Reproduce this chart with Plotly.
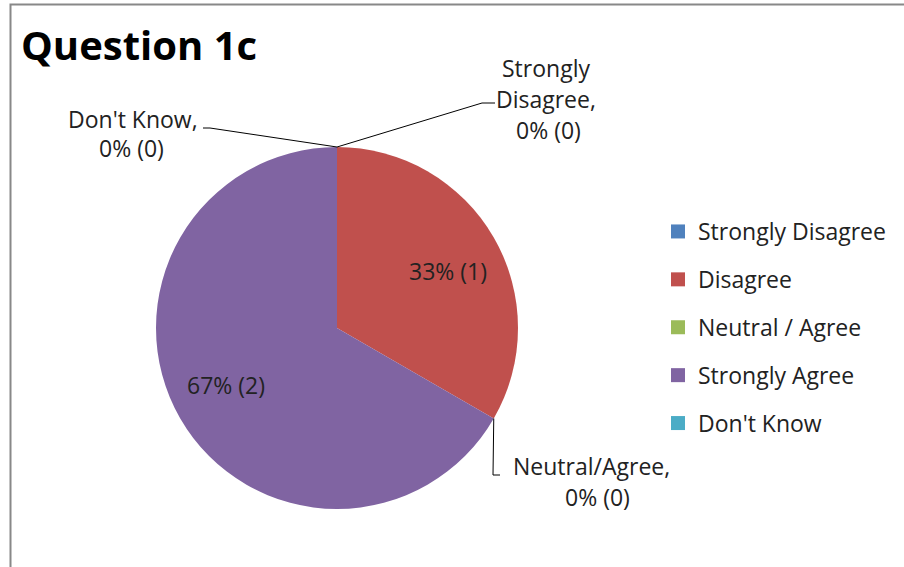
import math
import plotly.graph_objects as go

# data
categories = ['Strongly Disagree', 'Disagree', 'Neutral / Agree', 'Strongly Agree', "Don't Know"]
counts = [0, 1, 0, 2, 0]
colors = ['#4F81BD', '#C0504D', '#9BBB59', '#8064A2', '#4BACC6']

W, H = 904, 567
FONT = 'Open Sans'
# pie geometry in pixels
CX, CY, R = 337, 328, 181


def px(x, y):
    return x / W, 1 - y / H


total = sum(counts)
pcts = [round(100 * c / total) for c in counts]

fig = go.Figure()
fig.add_trace(go.Pie(
    labels=categories, values=counts, sort=False, direction='clockwise', rotation=0,
    marker=dict(colors=colors, line=dict(width=0)),
    textinfo='none', hoverinfo='label+value+percent', showlegend=False,
    domain=dict(x=[(CX - R) / W, (CX + R) / W], y=[1 - (CY + R) / H, 1 - (CY - R) / H]),
))

# legend entries with a bigger gap between them
for name, col in zip(categories, colors):
    fig.add_trace(go.Scatter(
        x=[None], y=[None], mode='markers', name=name, legendgroup=name,
        marker=dict(symbol='square', size=14, color=col),
    ))

annotations = []
shapes = []

# angles (degrees clockwise from 12 o'clock) for the start/mid of each slice
cum = 0
angles = []
for c in counts:
    a0 = 360 * cum / total
    a1 = 360 * (cum + c) / total
    angles.append((a0, (a0 + a1) / 2))
    cum += c


def polar(angle, r):
    t = math.radians(angle)
    return CX + r * math.sin(t), CY - r * math.cos(t)


def label(x, y, text):
    ax, ay = px(x, y)
    annotations.append(dict(x=ax, y=ay, xref='paper', yref='paper', showarrow=False,
                            xanchor='center', yanchor='middle', text=text,
                            font=dict(family=FONT, size=23, color='#222')))


# inside labels for non-zero slices
for i, c in enumerate(counts):
    if c == 0:
        continue
    x, y = polar(angles[i][1] + 3, 0.69 * R)
    label(x, y, f'{pcts[i]}% ({c})')

# outside labels for zero slices: (lines, text centre x, first line y, elbow, end)
outside = {
    0: (['Strongly', 'Disagree,'], 546, 68, (482, 103), (495, 103)),
    4: (["Don't Know,"], 133, 119, (210, 128), (203, 128)),
    2: (['Neutral/Agree,'], 591, 466, (493, 475), (500, 475)),
}
LINE = 31
for i, (lines, tx, ty, elbow, end) in outside.items():
    rows = lines + [f'{pcts[i]}% ({counts[i]})']
    for k, row in enumerate(rows):
        shift = 0
        if k == len(rows) - 1:
            shift = {0: 2, 4: -2, 2: 6}[i]
        label(tx + shift, ty + k * LINE - (2 if i == 4 and k == 1 else 0), row)
    sx, sy = polar(angles[i][0], R)
    pts = [(sx, sy), elbow, end]
    for (x0, y0), (x1, y1) in zip(pts[:-1], pts[1:]):
        a0, b0 = px(x0, y0)
        a1, b1 = px(x1, y1)
        shapes.append(dict(type='line', xref='paper', yref='paper', x0=a0, y0=b0, x1=a1, y1=b1,
                           line=dict(color='#000', width=1)))

# chart border (left and top visible)
shapes.append(dict(type='rect', xref='paper', yref='paper', x0=10.5 / W, y0=-0.05, x1=1.05, y1=1 - 4.5 / H,
                   line=dict(color='#888', width=2), layer='below'))

fig.update_layout(
    width=W, height=H,
    margin=dict(l=0, r=0, t=0, b=0),
    paper_bgcolor='white', plot_bgcolor='white',
    title=dict(text='<b>Question 1c</b>', x=21 / W, xanchor='left', y=1 - 46 / H, yanchor='middle',
               font=dict(family=FONT, size=40, color='#000')),
    xaxis=dict(visible=False), yaxis=dict(visible=False),
    legend=dict(x=658 / W, y=1 - 210 / H, xanchor='left', yanchor='top', tracegroupgap=15,
                font=dict(family=FONT, size=23, color='#222'), itemwidth=30, bgcolor='rgba(0,0,0,0)'),
    annotations=annotations, shapes=shapes,
)

fig.write_html('out.html', config={'displayModeBar': False},
               post_script="document.body.style.margin='0';")
